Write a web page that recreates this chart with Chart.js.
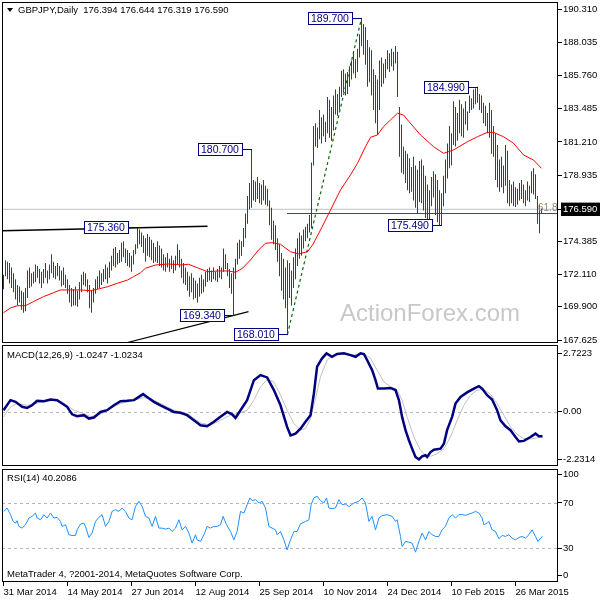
<!DOCTYPE html>
<html>
<head>
<meta charset="utf-8">
<script src="https://cdn.jsdelivr.net/npm/chart.js@4.4.0/dist/chart.umd.min.js"></script>
<style>
  body { margin: 0; background: #fff; }
  #wrap { position: relative; width: 600px; height: 600px; overflow: hidden; }
  canvas { position: absolute; left: 0; }
</style>
</head>
<body>
<div id="wrap">
  <canvas id="main" width="600" height="344" style="top:0"></canvas>
  <canvas id="macd" width="600" height="123" style="top:344px"></canvas>
  <canvas id="rsi" width="600" height="133" style="top:467px"></canvas>
</div>
<script>
// x positions are bar numbers (trading days from 31 Mar 2014)
const dateTicks = [0, 32, 64, 96, 128, 160, 192, 224, 256];
const dateLabels = ['31 Mar 2014', '14 May 2014', '27 Jun 2014', '12 Aug 2014', '25 Sep 2014',
  '10 Nov 2014', '24 Dec 2014', '10 Feb 2015', '26 Mar 2015'];

// daily highs / lows
const highs = [
  172.1, 173.1, 173.0, 172.9, 172.6, 172.2, 171.8, 171.4, 171.3, 171.0,
  170.9, 171.2, 172.4, 172.6, 172.2, 172.3, 172.8, 172.7, 172.5, 172.3,
  172.5, 172.9, 172.4, 172.8, 173.5, 173.0, 172.7, 172.9, 172.7, 172.4,
  172.6, 172.1, 171.8, 171.4, 171.2, 171.1, 171.3, 171.0, 171.6, 172.1,
  172.3, 172.2, 171.8, 171.4, 171.0, 171.2, 171.8, 172.0, 172.4, 172.2,
  172.5, 172.8, 172.6, 173.0, 173.4, 173.9, 174.0, 173.6, 173.8, 174.3,
  174.4, 173.9, 173.8, 173.6, 173.4, 173.8, 174.2, 175.36, 175.2, 175.0,
  174.8, 174.6, 174.9, 174.7, 174.5, 174.3, 174.0, 174.4, 174.1, 173.9,
  173.5, 173.3, 173.6, 173.2, 173.4, 173.1, 173.4, 174.2, 173.8, 173.2,
  172.9, 172.6, 172.3, 172.0, 172.2, 171.9, 171.7, 171.5, 171.9, 172.1,
  171.8, 172.3, 172.5, 172.6, 172.4, 172.6, 172.3, 172.5, 172.7, 172.6,
  173.9, 173.5, 172.9, 172.5, 172.2, 172.6, 173.2, 174.3, 174.5, 174.4,
  175.3, 176.3, 177.5, 178.4, 180.7, 178.6, 178.5, 178.8, 178.4, 178.3,
  178.6, 178.2, 178.0, 177.2, 176.7, 175.8, 175.5, 174.6, 174.2, 173.6,
  173.2, 172.6, 173.1, 172.9, 172.4, 173.3, 173.9, 174.6, 175.0, 174.8,
  175.2, 175.4, 175.6, 176.2, 179.8, 182.3, 182.5, 182.2, 183.4, 182.9,
  183.1, 182.6, 184.3, 184.1, 183.6, 184.4, 184.8, 184.5, 185.0, 186.1,
  186.2, 185.9, 186.0, 186.4, 186.8, 187.4, 186.9, 187.6, 188.6, 189.7,
  189.3, 189.1, 188.2, 187.7, 187.5, 186.2, 185.8, 185.5, 186.8, 187.0,
  186.6, 186.9, 187.5, 187.3, 187.6, 187.4, 187.8, 187.4, 183.6, 182.4,
  180.9, 180.6, 180.4, 180.1, 179.5, 180.2, 179.6, 179.3, 179.9, 180.0,
  179.6, 178.9, 178.3, 177.9, 178.8, 179.2, 179.0, 178.6, 177.9, 177.7,
  178.9, 180.0, 181.1, 182.3, 181.8, 184.0, 183.6, 183.2, 184.1, 183.8,
  183.5, 184.0, 183.3, 184.4, 184.2, 184.8, 184.9, 184.99, 184.5, 184.4,
  183.9, 183.7, 183.2, 183.9, 183.4, 182.3, 181.8, 181.0, 180.0, 180.2,
  179.6, 181.0, 180.6, 178.6, 178.3, 178.5, 178.1, 178.0, 178.4, 178.6,
  178.3, 177.9, 178.5, 178.2, 179.2, 179.4, 179.0, 177.5, 176.9, 176.644
];
const lows = [
  171.1, 172.0, 171.8, 171.5, 171.2, 170.9, 170.4, 170.0, 170.2, 169.7,
  169.5, 169.6, 170.5, 171.2, 171.3, 171.5, 171.6, 171.9, 171.5, 171.2,
  171.5, 171.9, 171.5, 171.8, 172.2, 171.9, 171.8, 172.0, 171.7, 171.3,
  171.4, 171.2, 170.8, 170.2, 169.9, 170.0, 170.0, 169.9, 170.4, 170.9,
  171.4, 171.3, 170.9, 169.8, 169.5, 170.2, 170.8, 171.1, 171.2, 171.4,
  171.6, 171.8, 171.5, 171.9, 172.4, 172.7, 172.6, 172.8, 172.9, 173.0,
  173.3, 172.9, 172.7, 172.6, 172.3, 172.8, 173.5, 173.9, 174.2, 174.0,
  173.6, 173.0, 173.4, 173.3, 173.1, 172.9, 173.0, 172.9, 172.7, 172.6,
  172.4, 172.3, 172.6, 172.3, 172.5, 172.2, 172.4, 172.8, 172.6, 171.9,
  171.5, 171.4, 171.0, 170.6, 170.9, 170.4, 170.5, 170.2, 170.6, 170.8,
  170.9, 171.3, 171.6, 171.7, 171.6, 171.8, 171.7, 171.6, 171.9, 171.8,
  172.3, 172.5, 172.0, 171.2, 170.8, 169.34, 171.8, 172.8, 173.2, 173.4,
  174.0, 174.6, 175.6, 176.6, 176.7, 177.2, 177.1, 177.3, 177.0, 176.9,
  177.2, 176.9, 176.8, 175.5, 174.5, 174.2, 173.8, 173.0, 172.0, 171.0,
  170.4, 169.8, 168.01, 170.5, 170.0, 171.2, 171.8, 172.7, 173.2, 173.4,
  173.9, 174.4, 174.6, 175.0, 175.3, 179.6, 180.9, 180.8, 181.4, 181.1,
  181.6, 181.2, 181.8, 181.5, 181.3, 182.0, 183.1, 183.0, 183.4, 184.3,
  184.6, 184.4, 184.5, 185.0, 185.5, 185.9, 185.6, 186.0, 187.0, 187.8,
  187.2, 186.5, 185.0, 185.3, 184.4, 183.4, 182.5, 181.7, 183.4, 185.0,
  185.2, 185.6, 186.2, 186.0, 186.4, 186.1, 186.6, 184.3, 180.2, 179.1,
  179.0, 178.4, 177.9, 177.7, 177.8, 177.2, 176.7, 176.3, 177.1, 177.0,
  176.5, 176.0, 175.9, 175.6, 176.8, 177.4, 176.2, 175.7, 175.5, 175.49,
  176.8, 177.7, 178.7, 179.4, 179.6, 181.0, 180.9, 181.3, 181.8, 181.6,
  181.5, 182.4, 182.0, 183.2, 183.4, 183.5, 183.8, 183.9, 183.4, 183.2,
  182.5, 182.3, 181.8, 181.5, 180.4, 180.2, 178.6, 178.1, 177.8, 178.1,
  177.7, 178.2, 177.0, 176.8, 177.0, 176.8, 176.75, 176.9, 177.2, 177.3,
  177.0, 176.8, 177.2, 177.1, 177.7, 177.6, 177.3, 175.6, 174.95, 176.319
];

// red moving average [bar, price]
const movingAvg = [[0,169.50],[3.5,169.82],[7,169.98],[11,169.98],[15,170.26],[20,170.60],[25,170.87],
  [28.5,171.06],[33.5,171.06],[38.5,171.06],[43.5,171.01],[47,171.11],[52,171.28],[57,171.52],[62,171.74],
  [65,171.97],[68.5,172.24],[71,172.55],[76,172.77],[82.5,172.84],[89,172.77],[92.5,172.82],[97.5,172.55],
  [102,172.31],[107.5,172.36],[112.5,172.36],[116,172.27],[119.5,172.55],[123.5,173.12],[127.5,173.80],
  [131,174.26],[134.5,174.30],[138.5,174.19],[143.5,173.68],[147.5,173.53],[152,173.68],[154.5,174.14],
  [158.5,175.17],[163.5,176.54],[168.5,177.92],[173.5,178.95],[177,179.75],[181,180.89],[183.5,181.53],
  [187,181.69],[190,182.26],[193.5,182.72],[197,183.18],[200,183.06],[202,182.72],[208.5,181.69],
  [215,180.89],[220,180.43],[225,180.66],[232,181.23],[237,181.57],[242,181.87],[245,181.87],[250,181.57],
  [255,181.12],[260,180.32],[265,179.97],[269,179.40]];

const priceTicks = [190.310, 188.035, 185.760, 183.485, 181.210, 178.935, 176.590, 174.385, 172.110, 169.900, 167.625];
const lastPrice = 176.590;
const swingLabels = [[67,175.36],[115,169.34],[124,180.70],[142,168.01],[179,189.70],[219,175.49],[237,184.99]];
const upperTrend = [[-0.75,175.12],[102,175.43]];
const lowerTrend = [[61,167.42],[122.5,169.57]];
const fanLine = [[142,168.01],[179,189.70]];
const fibLevel = 176.30;

const macdMain = [[0,0.06],[3.5,0.53],[6,0.45],[9.3,0.22],[11.8,0.17],[14.3,0.29],[16.8,0.50],[20.2,0.48],
  [23.5,0.56],[26.8,0.53],[29.3,0.37],[31.8,0.22],[34.3,-0.13],[36.8,-0.22],[40.2,-0.17],[42.7,-0.33],
  [45.2,-0.28],[48.5,-0.02],[51.8,0.06],[55.2,0.29],[58.5,0.48],[61.8,0.50],[65.2,0.53],[67.7,0.68],
  [69.8,0.81],[71.8,0.68],[75.2,0.45],[78.5,0.29],[81.8,0.14],[85.2,-0.02],[88.5,-0.06],[91.8,-0.17],
  [95.2,-0.41],[98.5,-0.64],[101.8,-0.69],[105.2,-0.48],[108.5,-0.25],[111.8,-0.02],[114.3,-0.13],
  [116,-0.30],[118.5,0.06],[121.8,0.53],[125.2,1.46],[128.5,1.70],[131.8,1.59],[135.2,1.00],[138.5,0.29],
  [141.8,-0.72],[143.5,-1.11],[146,-1.03],[148.5,-0.80],[151,-0.48],[153.5,-0.17],[155.2,0.84],[156.8,2.09],
  [159.3,2.48],[161.5,2.71],[164.3,2.55],[166.8,2.68],[170.2,2.71],[173.5,2.63],[176,2.55],[178.5,2.71],
  [180.2,2.68],[181.8,2.40],[184.3,1.93],[186,1.46],[187.2,1.07],[190.2,1.07],[193.5,1.10],[196,1.00],
  [197.7,0.53],[199.3,-0.25],[201,-0.87],[202.7,-1.34],[204.3,-1.73],[206,-2.12],[207.7,-2.23],[209.3,-2.09],
  [211,-2.04],[211.8,-2.12],[213.5,-1.89],[215.2,-1.78],[218.5,-1.73],[220.2,-1.50],[221.8,-0.87],
  [224.3,-0.25],[226,0.37],[228.5,0.68],[231.8,0.89],[235.2,1.07],[237.7,1.18],[239.3,1.07],[241.8,0.76],
  [244.3,0.56],[246.8,0.06],[248.5,-0.41],[251,-0.69],[253.5,-0.87],[256,-1.19],[257.7,-1.39],[260.2,-1.37],
  [263.5,-1.19],[266,-1.03],[267.7,-1.15],[269.5,-1.15]];
const macdSignal = [[0,-0.25],[3.5,0.22],[6.8,0.37],[11.8,0.29],[15.2,0.37],[20.2,0.45],[25.2,0.53],
  [29.3,0.45],[31.8,0.29],[35.2,0.06],[40.2,-0.10],[43.5,-0.25],[48.5,-0.13],[53.5,0.14],[58.5,0.37],
  [65.2,0.53],[70.2,0.65],[75.2,0.53],[80.2,0.29],[85.2,0.06],[91.8,-0.10],[98.5,-0.53],[103.5,-0.64],
  [108.5,-0.41],[113.5,-0.17],[118.5,-0.06],[121.8,0.06],[125.2,0.53],[128.5,1.15],[131.8,1.49],
  [135.2,1.38],[138.5,0.76],[141.8,0.06],[145.2,-0.56],[148.5,-0.85],[151,-0.80],[153.5,-0.33],[156,0.60],
  [158.5,1.62],[161.8,2.40],[165.2,2.63],[170.2,2.68],[175.2,2.63],[180.2,2.71],[183.5,2.48],[186.8,1.93],
  [190.2,1.38],[193.5,1.15],[196.8,1.00],[199.3,0.53],[201.8,-0.25],[205.2,-1.19],[208.5,-1.81],
  [211,-2.04],[213.5,-2.09],[216.8,-1.97],[220.2,-1.73],[223.5,-1.19],[226.8,-0.41],[230.2,0.29],
  [233.5,0.76],[236.8,1.00],[240.2,1.02],[243.5,0.81],[246.8,0.37],[250.2,-0.17],[253.5,-0.72],
  [256.8,-1.06],[260.2,-1.26],[263.5,-1.28],[266.8,-1.23],[269.5,-1.17]];
const macdTicks = [2.7223, 0, -2.2314];

const rsiLine = [[0.2,62.5],[1.8,65.5],[3.5,59.6],[4.8,53.6],[6,52.1],[6.8,54.2],[7.7,49.2],[9.3,47.7],
  [11,50.7],[12.7,56.6],[14.3,58.1],[16,61.0],[16.8,56.6],[18.5,55.1],[20.2,59.6],[21.8,56.6],[23.5,61.0],
  [25.2,56.6],[26.8,57.2],[28.5,53.6],[29.3,49.2],[31,50.7],[32.7,41.8],[34.3,41.2],[36,41.2],[36.8,46.2],
  [38.5,51.3],[40.2,52.1],[41,49.2],[42.7,39.4],[44.3,43.3],[46,53.6],[47.7,57.2],[49.3,59.6],[51,49.2],
  [52.7,53.6],[54.3,62.5],[56,64.0],[57.7,62.5],[59.3,65.5],[61,62.5],[62.7,56.6],[64.3,55.1],[66,67.0],
  [67.7,71.4],[69.3,67.0],[71,58.1],[72.7,56.6],[74.3,49.2],[76,58.1],[77.7,47.7],[79.3,47.7],[81,46.8],
  [82.7,47.7],[84.3,44.7],[86,47.7],[87.7,55.1],[89.3,46.2],[91,49.2],[92.7,43.3],[94.3,34.4],[96,41.8],
  [96.8,37.3],[98.5,35.9],[100.2,41.8],[101.8,49.2],[103.5,47.7],[105.2,49.2],[106.8,49.2],[108.5,50.7],
  [109.8,58.1],[111.5,50.7],[113.5,44.7],[115.2,37.3],[116.8,44.7],[118.5,62.5],[120.2,61.0],[121.8,68.4],
  [123.2,74.4],[124.3,72.0],[126,72.9],[127.7,69.9],[129.3,71.4],[131,65.5],[132.7,49.2],[134.3,47.7],
  [136,46.2],[136.8,41.8],[138.5,44.7],[140.2,37.3],[141.8,28.4],[143.5,37.3],[145.2,44.7],[146.8,44.7],
  [148.5,51.5],[151,53.6],[152.7,55.1],[153.8,68.4],[155.2,74.4],[156.8,75.9],[158.5,72.0],[160.2,69.9],
  [161.5,74.4],[162.7,65.5],[164.3,64.9],[166,65.5],[167.7,72.9],[169.3,68.4],[171,69.0],[172.7,66.7],
  [175.2,69.9],[177.7,71.4],[179.3,74.4],[181,69.9],[182.7,53.6],[184.3,58.1],[186,46.2],[187.7,56.6],
  [189.3,58.7],[191.8,59.6],[194.3,58.1],[196,53.6],[196.8,55.1],[198.5,40.3],[199.3,31.4],[201,35.9],
  [202.7,35.3],[204.3,34.4],[206,26.4],[207.7,35.9],[209.3,43.3],[211,37.3],[212.7,44.7],[214.3,41.8],
  [216,40.3],[217.7,40.3],[219.3,46.2],[221,49.2],[222.7,56.6],[224.3,59.6],[226,56.6],[227.7,59.6],
  [229.3,59.6],[231,59.0],[232.7,60.1],[234.3,61.0],[236,62.5],[237.7,61.0],[239.3,56.6],[240.2,50.7],
  [241.8,52.1],[242.7,53.6],[244.3,46.2],[246,44.7],[247.7,38.2],[249.3,41.2],[251,40.3],[252.7,41.8],
  [254.3,38.8],[256,37.3],[257.7,39.4],[259.3,40.3],[261,38.8],[262.7,41.8],[264.3,46.2],[266,40.3],
  [267.2,35.9],[268.5,38.8],[269.5,40.2]];
const rsiTicks = [95, 70, 30, 6];
const rsiTickText = ['100', '70', '30', '0'];
const rsiLevels = [70, 30];

const FONT = "'Liberation Sans', Arial, sans-serif";
Chart.defaults.font.family = FONT;
Chart.defaults.font.size = 9.5;
Chart.defaults.color = '#000';
Chart.defaults.animation = false;
Chart.defaults.events = [];
Chart.defaults.plugins.legend.display = false;
Chart.defaults.plugins.tooltip.enabled = false;

const X_MIN = -0.75, X_MAX = 277.25;
const toXY = arr => arr.map(p => ({ x: p[0], y: p[1] }));

function noPad(s) { s.paddingTop = 0; s.paddingBottom = 0; s.paddingLeft = 0; s.paddingRight = 0; }

function yAxis(min, max, values, fmt, extra) {
  return Object.assign({
    position: 'right', min: min, max: max,
    afterFit(s) { s.width = 42; noPad(s); },
    afterBuildTicks(s) { s.ticks = values.map(v => ({ value: v })); },
    grid: { drawOnChartArea: false, drawTicks: true, tickLength: 4, color: '#000' },
    border: { display: false },
    ticks: { padding: 1, autoSkip: false, color: '#000', callback: fmt }
  }, extra || {});
}
const hiddenX = { type: 'linear', min: X_MIN, max: X_MAX, offset: false, display: false };

// panel frame
const framePlugin = {
  id: 'frame',
  afterDraw(chart) {
    const { ctx, chartArea: a } = chart;
    ctx.save();
    ctx.strokeStyle = '#000';
    ctx.lineWidth = 1;
    ctx.strokeRect(a.left + 0.5, a.top + 0.5, a.width - 1, a.height - 1);
    ctx.restore();
  }
};

// dashed level lines
const levelPlugin = {
  id: 'levels',
  beforeDatasetsDraw(chart, args, opts) {
    const { ctx, chartArea: a, scales } = chart;
    ctx.save();
    ctx.strokeStyle = '#b4b4b4';
    ctx.lineWidth = 1;
    ctx.setLineDash([3, 3]);
    (opts.values || []).forEach(v => {
      const py = Math.round(scales.y.getPixelForValue(v)) + 0.5;
      ctx.beginPath();
      ctx.moveTo(a.left, py);
      ctx.lineTo(a.right, py);
      ctx.stroke();
    });
    ctx.restore();
  }
};

function textPlugin(items) {
  return {
    id: 'texts',
    afterDraw(chart) {
      const ctx = chart.ctx;
      ctx.save();
      ctx.textBaseline = 'middle';
      items.forEach(t => {
        ctx.font = t.font || ('9.5px ' + FONT);
        ctx.fillStyle = t.color || '#000';
        ctx.fillText(t.text, t.x, t.y);
      });
      ctx.restore();
    }
  };
}

// boxed swing high / low values
const swingPlugin = {
  id: 'swings',
  beforeDatasetsDraw(chart) {
    const ctx = chart.ctx;
    ctx.save();
    ctx.font = '24px ' + FONT;
    ctx.fillStyle = '#c8c8c8';
    ctx.textBaseline = 'alphabetic';
    ctx.fillText('ActionForex.com', 340, 321);
    ctx.restore();
  },
  afterDatasetsDraw(chart) {
    const { ctx, scales: { x, y } } = chart;
    ctx.save();
    ctx.font = '10.5px ' + FONT;
    ctx.textBaseline = 'middle';
    swingLabels.forEach(([i, v]) => {
      const px = Math.round(x.getPixelForValue(i));
      const py = Math.round(y.getPixelForValue(v));
      const t = v.toFixed(3);
      const w = Math.ceil(ctx.measureText(t).width) + 6;
      const right = px - 10, left = right - w;
      ctx.fillStyle = '#fff';
      ctx.fillRect(left, py - 6, w, 13);
      ctx.strokeStyle = '#000080';
      ctx.lineWidth = 1;
      ctx.strokeRect(left + 0.5, py - 5.5, w, 12);
      ctx.beginPath();
      ctx.moveTo(right + 0.5, py + 0.5);
      ctx.lineTo(px, py + 0.5);
      ctx.stroke();
      ctx.fillStyle = '#000080';
      ctx.fillText(t, left + 3, py + 1);
    });
    // fib level tag
    ctx.font = '10px ' + FONT;
    ctx.fillStyle = '#8c8c78';
    ctx.fillText('61.8', 538, Math.round(y.getPixelForValue(fibLevel)) - 6);
    // title marker
    ctx.fillStyle = '#000';
    ctx.beginPath();
    ctx.moveTo(7, 8); ctx.lineTo(13, 8); ctx.lineTo(10, 12); ctx.closePath();
    ctx.fill();
    ctx.restore();
  }
};

const lineDs = (data, color, width, order, extra) => Object.assign({
  type: 'line', data: toXY(data), borderColor: color, borderWidth: width,
  pointRadius: 0, fill: false, tension: 0, order: order
}, extra || {});

new Chart(document.getElementById('main'), {
  type: 'bar',
  data: {
    datasets: [
      lineDs([[X_MIN, lastPrice], [X_MAX, lastPrice]], '#c0c0c0', 1, 10),
      lineDs([[141.75, fibLevel], [X_MAX, fibLevel]], '#3c4c50', 1, 9),
      {
        type: 'bar',
        data: highs.map((h, i) => ({ x: i, y: [lows[i], h] })),
        backgroundColor: '#1a4a6a', borderWidth: 0, barThickness: 1,
        inflateAmount: 0, order: 5
      },
      lineDs(movingAvg, '#ff0000', 1, 3),
      lineDs(upperTrend, '#000', 1.5, 2),
      lineDs(lowerTrend, '#000', 1.2, 2),
      lineDs(fanLine, '#0a640a', 1.2, 1, { borderDash: [3, 3] })
    ]
  },
  options: {
    responsive: false,
    layout: { padding: { top: 2, left: 2, bottom: 1, right: 0 } },
    scales: {
      x: hiddenX,
      y: yAxis(167.42, 190.81, priceTicks, v => v.toFixed(3), {
        ticks: {
          padding: 1, autoSkip: false,
          callback: v => v.toFixed(3),
          color: c => (c.tick && c.tick.value === lastPrice) ? '#fff' : '#000',
          showLabelBackdrop: true,
          backdropColor: c => (c.tick && c.tick.value === lastPrice) ? '#000' : 'rgba(0,0,0,0)',
          backdropPadding: { left: 2, right: 3, top: 1, bottom: 1 }
        }
      })
    }
  },
  plugins: [framePlugin, swingPlugin,
    textPlugin([{ text: 'GBPJPY,Daily  176.394 176.644 176.319 176.590', x: 18, y: 10 }])]
});

new Chart(document.getElementById('macd'), {
  type: 'line',
  data: {
    datasets: [
      lineDs(macdSignal, '#c0c0c0', 1, 2),
      lineDs(macdMain, '#000080', 2.5, 1)
    ]
  },
  options: {
    responsive: false,
    layout: { padding: { top: 1, left: 2, bottom: 1, right: 0 } },
    scales: {
      x: hiddenX,
      y: yAxis(-2.54, 3.10, macdTicks, v => v === 0 ? '0.00' : v.toFixed(4))
    },
    plugins: { levels: { values: [0] } }
  },
  plugins: [framePlugin, levelPlugin,
    textPlugin([{ text: 'MACD(12,26,9) -1.0247 -1.0234', x: 7, y: 11 }])]
});

new Chart(document.getElementById('rsi'), {
  type: 'line',
  data: { datasets: [lineDs(rsiLine, '#1e90ff', 1, 1)] },
  options: {
    responsive: false,
    layout: { padding: { top: 2, left: 2, bottom: 0, right: 0 } },
    scales: {
      x: {
        type: 'linear', min: X_MIN, max: X_MAX, offset: false, position: 'bottom',
        afterFit(s) { s.height = 18; noPad(s); },
        afterBuildTicks(s) { s.ticks = dateTicks.map(v => ({ value: v })); },
        grid: { drawOnChartArea: false, drawTicks: true, tickLength: 4, color: '#000' },
        border: { display: false },
        ticks: {
          autoSkip: false, maxRotation: 0, align: 'start', padding: 1, color: '#000',
          callback: v => dateLabels[dateTicks.indexOf(v)]
        }
      },
      y: yAxis(0, 100, rsiTicks, v => rsiTickText[rsiTicks.indexOf(v)])
    },
    plugins: { levels: { values: rsiLevels } }
  },
  plugins: [framePlugin, levelPlugin,
    textPlugin([
      { text: 'RSI(14) 40.2086', x: 7, y: 11 },
      { text: 'MetaTrader 4, ?2001-2014, MetaQuotes Software Corp.', x: 7, y: 107 }
    ])]
});
</script>
</body>
</html>
